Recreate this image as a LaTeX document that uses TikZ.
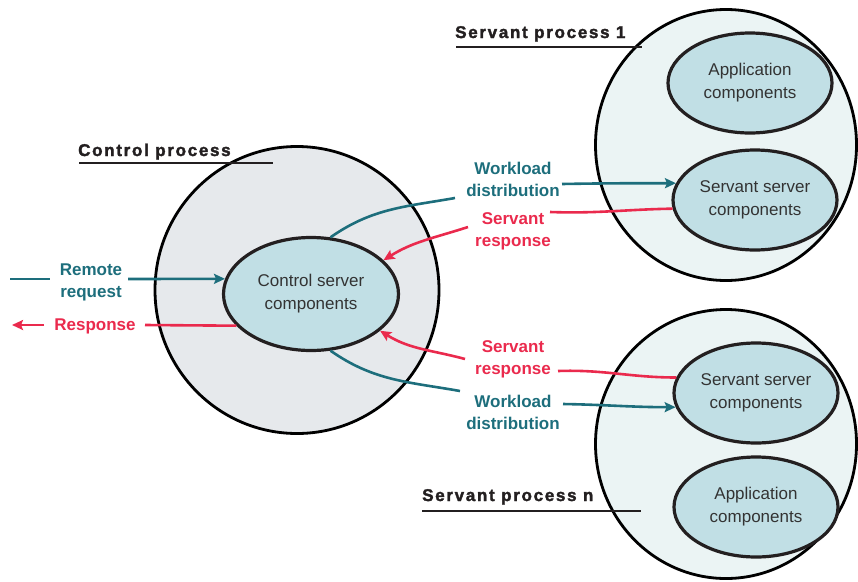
\documentclass[tikz,border=0pt]{standalone}
\usepackage{fontspec}
\setmainfont{Liberation Sans}
\newfontfamily\titlefont{Liberation Sans}[UprightFont={* Bold}, LetterSpace=10, FakeBold=2]
\usetikzlibrary{shapes.geometric,arrows.meta}
\definecolor{tealc}{HTML}{1D6E7C}
\definecolor{redc}{HTML}{EA2A4D}
\definecolor{dkline}{HTML}{231F20}
\definecolor{txt}{HTML}{333333}
\definecolor{ctrlfill}{HTML}{E6E9EC}
\definecolor{servfill}{HTML}{EBF4F4}
\definecolor{compfill}{HTML}{C1DFE5}
\begin{document}
\begin{tikzpicture}[x=1pt,y=-1pt,
  proc/.style={ellipse, draw=black, line width=2.8pt, inner sep=0pt},
  comp/.style={ellipse, draw=dkline, line width=3.2pt, fill=compfill, inner sep=0pt,
    minimum width=164pt, minimum height=100pt, align=center, text=txt,
    font=\fontsize{17}{23}\selectfont},
  lbl/.style={font=\bfseries\fontsize{17}{22}\selectfont, align=center, inner sep=0pt},
  tealln/.style={draw=tealc, line width=2.6pt},
  redln/.style={draw=redc, line width=2.6pt},
  tip/.style={-{Stealth[length=11pt,width=10pt,inset=2pt]}},
  ttl/.style={font=\titlefont\fontsize{17}{20}\selectfont, text=dkline,
    anchor=base west, inner sep=0pt},
  uline/.style={draw=dkline, line width=2.6pt}]
\useasboundingbox (0,0) rectangle (858,581);

% process circles
\node[proc, fill=ctrlfill, minimum width=284pt, minimum height=287pt] (cp) at (297,290) {};
\node[proc, fill=servfill, minimum width=261pt, minimum height=271pt] (sp1) at (726,145) {};
\node[proc, fill=servfill, minimum width=261pt, minimum height=269pt] (spn) at (726,444) {};

% components
\node[comp, minimum width=175pt, minimum height=113pt] (cs) at (311,294) {Control server\\components};
\node[comp] (app1) at (750,83) {Application\\components};
\node[comp] (ss1) at (755,200) {Servant server\\components};
\node[comp] (ssn) at (756,393) {Servant server\\components};
\node[comp] (appn) at (756,507) {Application\\components};

% titles
\node[ttl] (cpt) at (78,156) {Control process};
\node[ttl] (sp1t) at (455,38) {Servant process 1};
\node[ttl] (spnt) at (422,501) {Servant process n};
\coordinate (cpu1) at (79,163);  \coordinate (cpu2) at (273,163);
\coordinate (s1u1) at (456,47);  \coordinate (s1u2) at (642,47);
\coordinate (snu1) at (422,511); \coordinate (snu2) at (641,511);
\draw[uline] (cpu1) -- (cpu2);
\draw[uline] (s1u1) -- (s1u2);
\draw[uline] (snu1) -- (snu2);

% labels
\node[lbl, text=tealc] (rr) at (91,282) {Remote\\request};
\node[lbl, text=redc] (resp) at (95,326) {Response};
\node[lbl, text=tealc] (wd1) at (513,179) {Workload\\distribution};
\node[lbl, text=redc] (sr1) at (513,231) {Servant\\response};
\node[lbl, text=redc] (srn) at (513,359) {Servant\\response};
\node[lbl, text=tealc] (wdn) at (513,412) {Workload\\distribution};

% connector break points
\coordinate (rrA) at (10,279);  \coordinate (rrB) at (50,279);  \coordinate (rrC) at (128,279);
\coordinate (reA) at (145,325); \coordinate (reB) at (44,325);  \coordinate (reC) at (12,325);
\coordinate (wd1A) at (455,198); \coordinate (wd1B) at (562,184);
\coordinate (sr1A) at (550,212); \coordinate (sr1B) at (468,227);
\coordinate (srnA) at (558,371); \coordinate (srnB) at (465,359);
\coordinate (wdnA) at (460,391); \coordinate (wdnB) at (563,404);

% remote request / response
\draw[tealln] (rrA) -- (rrB);
\draw[tealln,tip] (rrC) -- (cs.170);
\draw[redln] (cs.203) -- (reA);
\draw[redln,tip] (reB) -- (reC);

% top workload / response
\draw[tealln] (cs.71) to[out=35,in=190] (wd1A);
\draw[tealln,tip] (wd1B) to[out=1,in=180] (ss1.168);
\draw[redln] (ss1.186) to[out=181,in=-2] (sr1A);
\draw[redln,tip] (sr1B) to[out=198,in=32] (cs.25);

% bottom response / workload
\draw[redln] (ssn.169) to[out=180,in=2] (srnA);
\draw[redln,tip] (srnB) to[out=165,in=-32] (cs.-28);
\draw[tealln] (cs.-71) to[out=-35,in=170] (wdnA);
\draw[tealln,tip] (wdnB) to[out=-1,in=180] (ssn.190);
\end{tikzpicture}
\end{document}
